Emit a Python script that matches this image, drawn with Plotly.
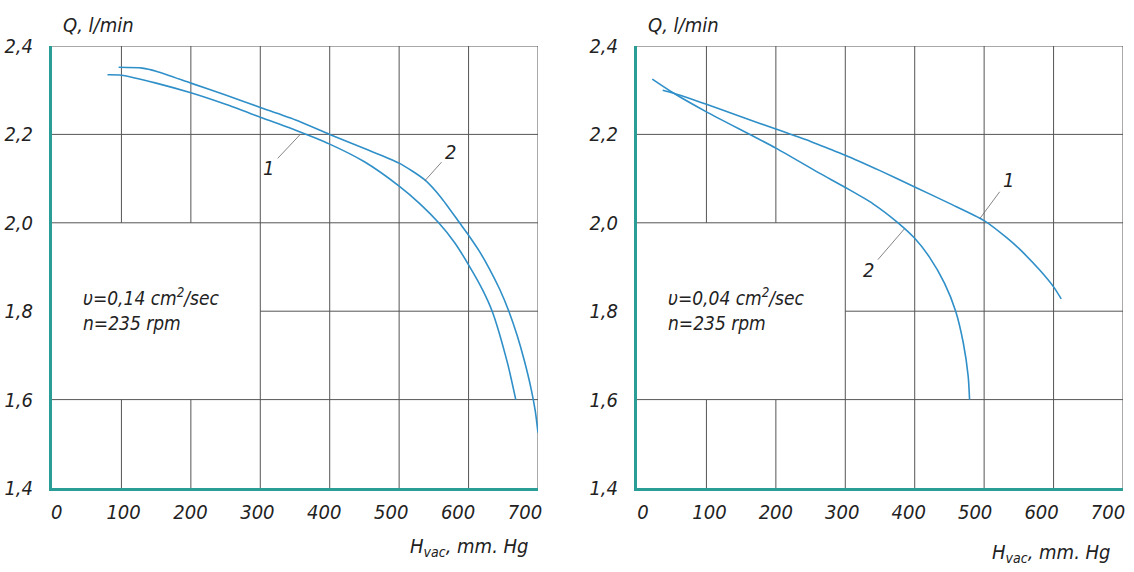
import plotly.graph_objects as go

# ---------------- data ----------------
x_ticks = [0, 100, 200, 300, 400, 500, 600, 700]
y_ticks = [1.4, 1.6, 1.8, 2.0, 2.2, 2.4]

# Left panel: nu = 0.14 cm2/sec
left_c1_x = [80, 100, 150, 200, 250, 300, 350, 400, 450, 500, 530, 557, 580, 600, 620, 634, 656, 668]
left_c1_y = [2.335, 2.334, 2.316, 2.294, 2.268, 2.239, 2.210, 2.178, 2.138, 2.083, 2.043, 2.0, 1.955, 1.905, 1.849, 1.80, 1.683, 1.60]
left_c2_x = [96, 130, 150, 200, 250, 300, 350, 400, 450, 500, 537, 560, 587, 600, 615, 630, 645, 658, 670, 680, 690, 696, 700]
left_c2_y = [2.352, 2.350, 2.343, 2.316, 2.289, 2.261, 2.233, 2.200, 2.168, 2.135, 2.097, 2.058, 2.0, 1.972, 1.937, 1.896, 1.849, 1.80, 1.745, 1.69, 1.625, 1.575, 1.525]

# Right panel: nu = 0.04 cm2/sec
right_c1_x = [37, 53, 100, 150, 200, 250, 282, 300, 350, 400, 450, 500, 532, 550, 580, 600, 611]
right_c1_y = [2.300, 2.293, 2.268, 2.240, 2.212, 2.184, 2.164, 2.153, 2.118, 2.081, 2.044, 2.005, 1.967, 1.942, 1.893, 1.855, 1.828]
right_c2_x = [22, 53, 100, 200, 262, 300, 340, 376, 400, 421, 443, 459, 470, 477, 479]
right_c2_y = [2.325, 2.293, 2.251, 2.169, 2.113, 2.080, 2.043, 2.0, 1.965, 1.923, 1.863, 1.80, 1.728, 1.653, 1.60]

left_note = "υ=0,14 cm<sup>2</sup>/sec<br>n=235 rpm"
right_note = "υ=0,04 cm<sup>2</sup>/sec<br>n=235 rpm"
y_title = "Q, l/min"
x_title = "H<sub>vac</sub>, mm. Hg"

# ---------------- style ----------------
W, H = 1134, 572
FONT = "DejaVu Sans Condensed, Liberation Sans Narrow, sans-serif"
TEAL = "#2a9d96"
BLUE = "#2f8fc8"
GRID = "#555555"
TXT = "#222222"

# pixel geometry
plot_top, plot_bot = 46, 488
left_x0, left_x1 = 52, 538
right_x0, right_x1 = 637, 1123

fig = go.Figure()


def dom_x(a, b):
    return [a / W, b / W]


ydom = [1 - plot_bot / H, 1 - plot_top / H]

curves = [
    ("x", "y", left_c1_x, left_c1_y),
    ("x", "y", left_c2_x, left_c2_y),
    ("x2", "y2", right_c1_x, right_c1_y),
    ("x2", "y2", right_c2_x, right_c2_y),
]
for xa, ya, xs, ys in curves:
    fig.add_trace(go.Scatter(x=xs, y=ys, mode="lines", xaxis=xa, yaxis=ya,
                             line=dict(color=BLUE, width=1.6, shape="spline", smoothing=0.7),
                             showlegend=False, hoverinfo="skip"))

# grid segments (blank box: 0<x<300, 1.6<y<2.0)
box_x = (0, 300)
box_y = (1.6, 2.0)
shapes = []
for xr, yr in (("x", "y"), ("x2", "y2")):
    for xv in x_ticks[1:]:
        if box_x[0] < xv < box_x[1]:
            segs = [(y_ticks[0], box_y[0]), (box_y[1], y_ticks[-1])]
        else:
            segs = [(y_ticks[0], y_ticks[-1])]
        for a, b in segs:
            shapes.append(dict(type="line", xref=xr, yref=yr, x0=xv, x1=xv, y0=a, y1=b,
                               line=dict(color=GRID, width=1), layer="below"))
    for yv in y_ticks[1:]:
        if box_y[0] < yv < box_y[1]:
            segs = [(box_x[1], x_ticks[-1])]
        else:
            segs = [(x_ticks[0], x_ticks[-1])]
        for a, b in segs:
            shapes.append(dict(type="line", xref=xr, yref=yr, x0=a, x1=b, y0=yv, y1=yv,
                               line=dict(color=GRID, width=1), layer="below"))

tickfont = dict(family=FONT, size=20, color=TXT, style="italic")
axis_common = dict(range=[x_ticks[0], x_ticks[-1]], showgrid=False,
                   zeroline=False, showline=True, linecolor=TEAL, linewidth=3,
                   ticks="", showticklabels=False, fixedrange=True, automargin=False)
# tick-label axes (the drawing's numbers sit on a slightly narrower scale than its grid)
label_axis = dict(tickvals=x_ticks, showgrid=False, zeroline=False, showline=False,
                  ticks="", ticklabelstandoff=10, tickfont=tickfont, fixedrange=True,
                  automargin=False, ticklabeloverflow="allow")
yaxis_common = dict(range=[y_ticks[0], y_ticks[-1]], tickvals=y_ticks, tickformat=".1f",
                    showgrid=False, zeroline=False, showline=True, linecolor=TEAL, linewidth=3,
                    ticks="", ticklabelstandoff=12, tickfont=tickfont, fixedrange=True,
                    automargin=False)

annotations = []
lbl_font = dict(family=FONT, size=20, color=TXT, style="italic")
note_font = dict(family=FONT, size=19, color=TXT, style="italic")

# curve number labels with leader lines
for xr, yr, tx, ty, px, py, t in [
    ("x", "y", 312, 2.124, 357, 2.199, "1"),
    ("x", "y", 574, 2.160, 537, 2.095, "2"),
    ("x2", "y2", 535, 2.097, 494, 2.010, "1"),
    ("x2", "y2", 334, 1.893, 385, 1.986, "2"),
]:
    annotations.append(dict(x=px, y=py, xref=xr, yref=yr, ax=tx, ay=ty, axref=xr, ayref=yr,
                            text=t, showarrow=True, arrowhead=0, arrowwidth=0.8,
                            arrowcolor="#666666", font=lbl_font, standoff=0, startstandoff=3))

# notes
for xr, yr, note in [("x", "y", left_note), ("x2", "y2", right_note)]:
    annotations.append(dict(x=42, y=1.804, xref=xr, yref=yr, text=note, showarrow=False,
                            xanchor="left", yanchor="middle", align="left", font=note_font))

# axis titles
annotations.append(dict(x=61 / W, y=1 - 25 / H, xref="paper", yref="paper", text=y_title,
                        showarrow=False, xanchor="left", yanchor="middle", font=lbl_font))
annotations.append(dict(x=646 / W, y=1 - 25 / H, xref="paper", yref="paper", text=y_title,
                        showarrow=False, xanchor="left", yanchor="middle", font=lbl_font))
annotations.append(dict(x=531 / W, y=1 - 547 / H, xref="paper", yref="paper", text=x_title,
                        showarrow=False, xanchor="right", yanchor="middle", font=lbl_font))
annotations.append(dict(x=1113 / W, y=1 - 553 / H, xref="paper", yref="paper", text=x_title,
                        showarrow=False, xanchor="right", yanchor="middle", font=lbl_font))

# invisible traces so the label axes are drawn
fig.add_trace(go.Scatter(x=[x_ticks[0]], y=[y_ticks[0]], xaxis="x3", yaxis="y", mode="markers",
                         marker=dict(opacity=0), showlegend=False, hoverinfo="skip"))
fig.add_trace(go.Scatter(x=[x_ticks[0]], y=[y_ticks[0]], xaxis="x4", yaxis="y2", mode="markers",
                         marker=dict(opacity=0), showlegend=False, hoverinfo="skip"))

fig.update_layout(
    width=W, height=H,
    margin=dict(l=0, r=0, t=0, b=0, autoexpand=False),
    paper_bgcolor="white", plot_bgcolor="white",
    separators=", ",
    xaxis=dict(domain=dom_x(left_x0, left_x1), anchor="y", **axis_common),
    yaxis=dict(domain=ydom, anchor="x", **yaxis_common),
    xaxis2=dict(domain=dom_x(right_x0, right_x1), anchor="y2", **axis_common),
    yaxis2=dict(domain=ydom, anchor="x2", **yaxis_common),
    xaxis3=dict(domain=dom_x(left_x0, left_x1), anchor="y", overlaying="x",
                range=[-7.0, 719.5], **label_axis),
    xaxis4=dict(domain=dom_x(right_x0, right_x1), anchor="y2", overlaying="x2",
                range=[-9.0, 722.6], **label_axis),
    shapes=shapes,
    annotations=annotations,
    showlegend=False,
)

fig.write_html("out.html", config={"displayModeBar": False},
               post_script="document.body.style.margin='0';document.body.style.overflow='hidden';")
